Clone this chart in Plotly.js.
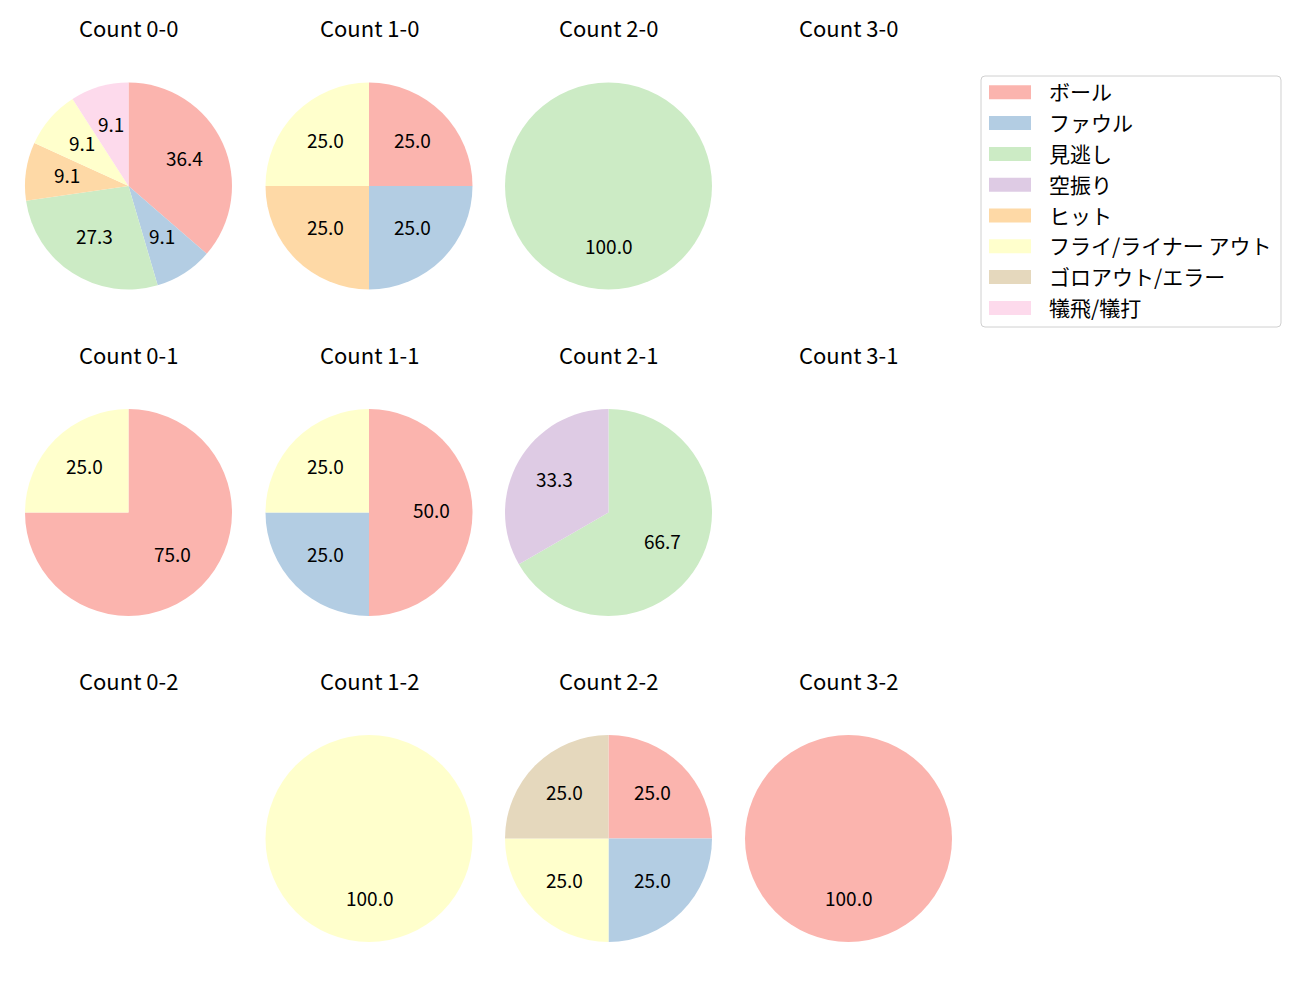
<!DOCTYPE html>
<html>
<head>
<meta charset="utf-8">
<script src="https://cdn.plot.ly/plotly-3.0.1.min.js"></script>
<style>html,body{margin:0;padding:0;background:#fff;}#chart{width:1300px;height:1000px;}</style>
</head>
<body>
<div id="chart"></div>
<script>
// ---- data ----
const categories = ['ボール','ファウル','見逃し','空振り','ヒット','フライ/ライナー アウト','ゴロアウト/エラー','犠飛/犠打'];
const colors = ['#fbb4ae','#b3cde3','#ccebc5','#decbe4','#fed9a6','#ffffcc','#e5d8bd','#fddaec'];
const countTitles = ['Count 0-0','Count 1-0','Count 2-0','Count 3-0',
                     'Count 0-1','Count 1-1','Count 2-1','Count 3-1',
                     'Count 0-2','Count 1-2','Count 2-2','Count 3-2'];
// values per count, in the order of `categories`
const c00 = [4,1,3,0,1,1,0,1];
const c10 = [1,1,0,0,1,1,0,0];
const c20 = [0,0,1,0,0,0,0,0];
const c30 = [0,0,0,0,0,0,0,0];
const c01 = [3,0,0,0,0,1,0,0];
const c11 = [2,1,0,0,0,1,0,0];
const c21 = [0,0,2,1,0,0,0,0];
const c31 = [0,0,0,0,0,0,0,0];
const c02 = [0,0,0,0,0,0,0,0];
const c12 = [0,0,0,0,0,1,0,0];
const c22 = [1,1,0,0,0,1,1,0];
const c32 = [1,0,0,0,0,0,0,0];
const countValues = [c00,c10,c20,c30,c01,c11,c21,c31,c02,c12,c22,c32];

// ---- layout geometry (pixels) ----
const W = 1300, H = 1000;
const colCenters = [128.5, 369, 608.5, 848.5];
const rowCenters = [186, 512.5, 838.5];
const R = 103.5;
const FONT = '"Noto Sans CJK JP", "Noto Sans", sans-serif';
const px = x => x / W;
const py = y => 1 - y / H;

const data = [];
const annotations = [];
const shapes = [];
const layout = {
  width: W, height: H,
  margin: {l:0, r:0, t:0, b:0},
  paper_bgcolor: '#ffffff', plot_bgcolor: 'rgba(0,0,0,0)',
  showlegend: false,
  font: {family: FONT, color: '#000'},
  annotations: annotations,
  shapes: shapes
};

countValues.forEach((vals, i) => {
  const col = i % 4, row = Math.floor(i / 4);
  const cx = colCenters[col], cy = rowCenters[row];
  const xd = [px(cx - R), px(cx + R)];
  const yd = [py(cy + R), py(cy - R)];
  const total = vals.reduce((a, b) => a + b, 0);

  annotations.push({
    text: countTitles[i], xref: 'paper', yref: 'paper',
    x: px(cx), y: py(cy - R - 54), xanchor: 'center', yanchor: 'middle', yshift: 1,
    showarrow: false, font: {family: FONT, size: 22, color: '#000'}
  });

  if (total === 0) return;

  data.push({
    type: 'pie', labels: categories, values: vals,
    marker: {colors: colors, line: {width: 0}},
    sort: false, direction: 'clockwise', rotation: 0,
    textinfo: 'none', hoverinfo: 'label+percent',
    domain: {x: xd, y: yd}, showlegend: false
  });

  // percentage labels at 0.6 of the radius, in an overlaid axis with range [-1,1]
  const ax = i + 1;
  const sfx = ax === 1 ? '' : String(ax);
  layout['xaxis' + sfx] = {domain: xd, range: [-1, 1], visible: false, fixedrange: true, anchor: 'y' + sfx};
  layout['yaxis' + sfx] = {domain: yd, range: [-1, 1], visible: false, fixedrange: true, anchor: 'x' + sfx};
  data.push({type: 'scatter', mode: 'none', x: [-1, 1], y: [-1, 1], hoverinfo: 'skip',
    xaxis: 'x' + sfx, yaxis: 'y' + sfx, showlegend: false});
  let cum = 0;
  vals.forEach(v => {
    if (v > 0) {
      const frac = v / total;
      const ang = (90 - 360 * (cum + frac / 2)) * Math.PI / 180;
      annotations.push({
        text: (frac * 100).toFixed(1), xref: 'x' + sfx, yref: 'y' + sfx,
        x: 0.6 * Math.cos(ang), y: 0.6 * Math.sin(ang),
        xanchor: 'center', yanchor: 'middle', yshift: 3, showarrow: false,
        font: {family: FONT, size: 19, color: '#000'}
      });
    }
    cum += v / total;
  });
});

// ---- legend ----
const lx0 = 981, lx1 = 1281, ly0 = 76, ly1 = 327, rr = 4;
const pathPts = [
  'M', px(lx0 + rr), py(ly0),
  'L', px(lx1 - rr), py(ly0),
  'Q', px(lx1), py(ly0), px(lx1), py(ly0 + rr),
  'L', px(lx1), py(ly1 - rr),
  'Q', px(lx1), py(ly1), px(lx1 - rr), py(ly1),
  'L', px(lx0 + rr), py(ly1),
  'Q', px(lx0), py(ly1), px(lx0), py(ly1 - rr),
  'L', px(lx0), py(ly0 + rr),
  'Q', px(lx0), py(ly0), px(lx0 + rr), py(ly0), 'Z'
];
let pth = '';
for (let k = 0; k < pathPts.length; k++) {
  const v = pathPts[k];
  pth += (typeof v === 'string') ? v : (v.toFixed(5) + ((typeof pathPts[k+1] === 'number') ? ',' : ' '));
}
shapes.push({type: 'path', xref: 'paper', yref: 'paper', path: pth,
  line: {color: '#d0d0d0', width: 1}, fillcolor: 'rgba(255,255,255,0.8)', layer: 'above'});

categories.forEach((c, k) => {
  const yc = 92.3 + k * 30.8;
  shapes.push({type: 'rect', xref: 'paper', yref: 'paper',
    x0: px(989), x1: px(1031), y0: py(yc - 7), y1: py(yc + 7),
    fillcolor: colors[k], line: {width: 0}, layer: 'above'});
  annotations.push({text: c, xref: 'paper', yref: 'paper',
    x: px(1047), y: py(yc), xanchor: 'left', yanchor: 'middle', yshift: 1,
    showarrow: false, font: {family: FONT, size: 21, color: '#000'}});
});

Plotly.newPlot('chart', data, layout, {displayModeBar: false, staticPlot: true});
</script>
</body>
</html>
